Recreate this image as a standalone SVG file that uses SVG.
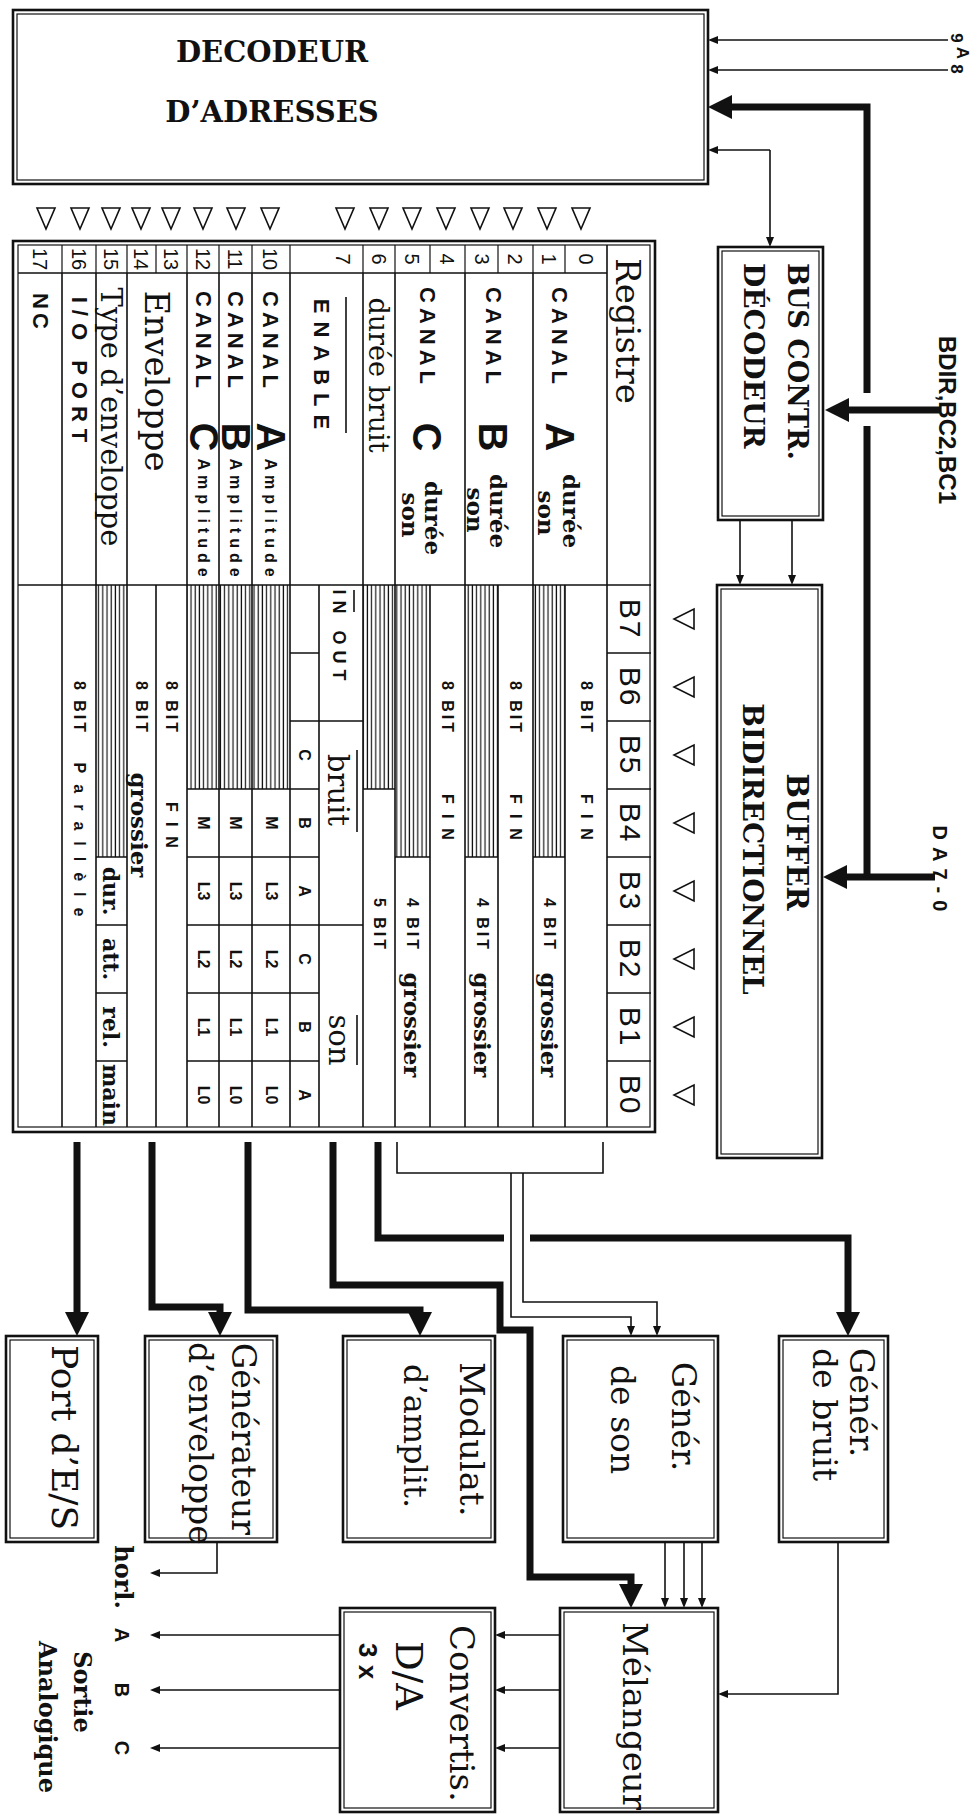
<svg xmlns="http://www.w3.org/2000/svg" width="970" height="1816" viewBox="0 0 970 1816">
<defs>
<style>
.ln{stroke:#111;fill:none;stroke-width:1.6}
.lt{stroke:#111;fill:none;stroke-width:1.2}
.th{stroke:#111;fill:none;stroke-width:7}
.bo{fill:#fff;stroke:#111;stroke-width:2.6}
.bi{fill:none;stroke:#111;stroke-width:1.2}
.tri{fill:#fff;stroke:#111;stroke-width:1.6}
.sf{font-family:'DejaVu Serif',serif;fill:#111}
.sb{font-family:'DejaVu Serif',serif;font-weight:bold;fill:#111}
.ss{font-family:'Liberation Sans',Arial,sans-serif;font-weight:bold;fill:#111}
.sn{font-family:'Liberation Sans',Arial,sans-serif;fill:#111}
.c{dominant-baseline:central;text-anchor:middle}
.s{dominant-baseline:central;text-anchor:start}
.h{fill:url(#hp);stroke:none}
.bit{font-size:16px;letter-spacing:3px}
.fin{font-size:16px;letter-spacing:10px}
.sm{font-size:16px}
</style>
<pattern id="hp" width="4.2" height="8" patternUnits="userSpaceOnUse"><rect width="4.2" height="8" fill="#fff"/><line x1="2" y1="0" x2="2" y2="8" stroke="#111" stroke-width="1.2"/></pattern>
<marker id="a" viewBox="0 0 10 8" refX="0" refY="4" markerWidth="10" markerHeight="8" orient="auto" markerUnits="userSpaceOnUse"><path d="M0,0 L10,4 L0,8 Z" fill="#111"/></marker>
<marker id="A" viewBox="0 0 24 24" refX="0" refY="12" markerWidth="24" markerHeight="24" orient="auto" markerUnits="userSpaceOnUse"><path d="M0,0 L24,12 L0,24 Z" fill="#111"/></marker>
<path id="td" d="M-9,0 L9,0 L0,21 Z" class="tri"/>
<path id="tl" d="M0,-10 L0,10 L-20,0 Z" class="tri"/>
</defs>
<rect width="970" height="1816" fill="#fff"/>

<g id="decodeur">
<rect class="bo" x="13" y="10" width="695" height="174"/>
<rect class="bi" x="17" y="14" width="687" height="166"/>
<text class="sb" x="272" y="62" font-size="29" text-anchor="middle">DECODEUR</text>
<text class="sb" x="272" y="122" font-size="29" text-anchor="middle">D’ADRESSES</text>
</g>

<g id="decoder-outputs">
<use href="#td" x="46" y="208"/><use href="#td" x="80" y="208"/><use href="#td" x="111" y="208"/><use href="#td" x="141" y="208"/>
<use href="#td" x="171" y="208"/><use href="#td" x="203" y="208"/><use href="#td" x="236" y="208"/><use href="#td" x="270" y="208"/>
<use href="#td" x="345" y="208"/><use href="#td" x="379" y="208"/><use href="#td" x="412" y="208"/><use href="#td" x="446" y="208"/>
<use href="#td" x="480" y="208"/><use href="#td" x="513" y="208"/><use href="#td" x="547" y="208"/><use href="#td" x="581" y="208"/>
</g>

<g id="table">
<rect class="bo" x="13" y="241" width="642" height="891"/>
<rect class="bi" x="18" y="245" width="632" height="882"/>
<rect class="h" x="533" y="585" width="32" height="272"/>
<rect class="h" x="465" y="585" width="33" height="272"/>
<rect class="h" x="395" y="585" width="35" height="272"/>
<rect class="h" x="363" y="585" width="32" height="204"/>
<rect class="h" x="187" y="585" width="103" height="204"/>
<rect class="h" x="96" y="585" width="31" height="272"/>
<path class="ln" d="M18,273 H607 M18,585 H651 M607,245 V1127"/>
<path class="lt" d="M62,245 V273 M96,245 V273 M127,245 V273 M156,245 V273 M187,245 V273 M219,245 V273 M252,245 V273 M290,245 V273 M363,245 V273 M395,245 V273 M430,245 V273 M465,245 V273 M498,245 V273 M533,245 V273 M565,245 V273"/>
<path class="ln" d="M62,273 V585 M96,273 V585 M127,273 V585 M187,273 V585 M219,273 V585 M252,273 V585 M290,273 V585 M363,273 V585 M395,273 V585 M465,273 V585 M533,273 V585"/>
<path class="ln" d="M62,585 V1127 M96,585 V1127 M127,585 V1127 M156,585 V1127 M187,585 V1127 M219,585 V1127 M252,585 V1127 M290,585 V1127 M319,585 V1127 M363,585 V1127 M395,585 V1127 M430,585 V1127 M465,585 V1127 M498,585 V1127 M533,585 V1127 M565,585 V1127"/>
<path class="ln" d="M607,653 H651 M607,721 H651 M607,789 H651 M607,857 H651 M607,925 H651 M607,993 H651 M607,1061 H651"/>
<path class="ln" d="M290,653 H319 M290,721 H363 M187,789 H319 M187,857 H319 M187,925 H363 M187,993 H319 M187,1061 H319 M363,789 H395 M395,857 H430 M465,857 H498 M533,857 H565 M96,857 H127 M96,925 H127 M96,993 H127 M96,1061 H127"/>
<text class="sf c" transform="translate(628 331) rotate(90)" font-size="34">Registre</text>
<text class="sn c" transform="translate(630 619) rotate(90)" font-size="30" letter-spacing="2">B7</text>
<text class="sn c" transform="translate(630 687) rotate(90)" font-size="30" letter-spacing="2">B6</text>
<text class="sn c" transform="translate(630 755) rotate(90)" font-size="30" letter-spacing="2">B5</text>
<text class="sn c" transform="translate(630 823) rotate(90)" font-size="30" letter-spacing="2">B4</text>
<text class="sn c" transform="translate(630 891) rotate(90)" font-size="30" letter-spacing="2">B3</text>
<text class="sn c" transform="translate(630 959) rotate(90)" font-size="30" letter-spacing="2">B2</text>
<text class="sn c" transform="translate(630 1027) rotate(90)" font-size="30" letter-spacing="2">B1</text>
<text class="sn c" transform="translate(630 1095) rotate(90)" font-size="30" letter-spacing="2">B0</text>
<text class="sn c" transform="translate(586 259) rotate(90)" font-size="20">0</text>
<text class="sn c" transform="translate(549 259) rotate(90)" font-size="20">1</text>
<text class="sn c" transform="translate(515 259) rotate(90)" font-size="20">2</text>
<text class="sn c" transform="translate(482 259) rotate(90)" font-size="20">3</text>
<text class="sn c" transform="translate(447 259) rotate(90)" font-size="20">4</text>
<text class="sn c" transform="translate(412 259) rotate(90)" font-size="20">5</text>
<text class="sn c" transform="translate(379 259) rotate(90)" font-size="20">6</text>
<text class="sn c" transform="translate(343 259) rotate(90)" font-size="20">7</text>
<text class="sn c" transform="translate(270 259) rotate(90)" font-size="20">10</text>
<text class="sn c" transform="translate(235 259) rotate(90)" font-size="20">11</text>
<text class="sn c" transform="translate(203 259) rotate(90)" font-size="20">12</text>
<text class="sn c" transform="translate(171 259) rotate(90)" font-size="20">13</text>
<text class="sn c" transform="translate(141 259) rotate(90)" font-size="20">14</text>
<text class="sn c" transform="translate(111 259) rotate(90)" font-size="20">15</text>
<text class="sn c" transform="translate(79 259) rotate(90)" font-size="20">16</text>
<text class="sn c" transform="translate(40 259) rotate(90)" font-size="20">17</text>
<text class="ss c" transform="translate(559 338) rotate(90)" font-size="22" letter-spacing="5">CANAL</text>
<text class="ss c" transform="translate(560 437) rotate(90)" font-size="40">A</text>
<text class="sb c" transform="translate(571 511) rotate(90)" font-size="23">durée</text>
<text class="sb c" transform="translate(546 513) rotate(90)" font-size="23">son</text>
<text class="ss c" transform="translate(493 338) rotate(90)" font-size="22" letter-spacing="5">CANAL</text>
<text class="ss c" transform="translate(493 437) rotate(90)" font-size="40">B</text>
<text class="sb c" transform="translate(498 511) rotate(90)" font-size="23">durée</text>
<text class="sb c" transform="translate(475 510) rotate(90)" font-size="23">son</text>
<text class="ss c" transform="translate(427 338) rotate(90)" font-size="22" letter-spacing="5">CANAL</text>
<text class="ss c" transform="translate(427 437) rotate(90)" font-size="40">C</text>
<text class="sb c" transform="translate(433 518) rotate(90)" font-size="23">durée</text>
<text class="sb c" transform="translate(410 515) rotate(90)" font-size="23">son</text>
<text class="sf c" transform="translate(378 375) rotate(90)" font-size="27">durée bruit</text>
<text class="ss c" transform="translate(321 368) rotate(90)" font-size="22" letter-spacing="8">ENABLE</text>
<path class="ln" d="M346,297 V433" stroke-width="2"/>
<text class="ss c" transform="translate(270 342) rotate(90)" font-size="22" letter-spacing="5">CANAL</text>
<text class="ss c" transform="translate(271 437) rotate(90)" font-size="40">A</text>
<text class="ss c" transform="translate(270 520) rotate(90)" font-size="16" letter-spacing="5">Amplitude</text>
<text class="ss c" transform="translate(235 342) rotate(90)" font-size="22" letter-spacing="5">CANAL</text>
<text class="ss c" transform="translate(236 437) rotate(90)" font-size="40">B</text>
<text class="ss c" transform="translate(235 520) rotate(90)" font-size="16" letter-spacing="5">Amplitude</text>
<text class="ss c" transform="translate(203 342) rotate(90)" font-size="22" letter-spacing="5">CANAL</text>
<text class="ss c" transform="translate(204 437) rotate(90)" font-size="40">C</text>
<text class="ss c" transform="translate(203 520) rotate(90)" font-size="16" letter-spacing="5">Amplitude</text>
<text class="sf c" transform="translate(157 381) rotate(90)" font-size="34">Enveloppe</text>
<text class="sf c" transform="translate(111 417) rotate(90)" font-size="29">Type d’enveloppe</text>
<text class="ss c" transform="translate(79 373) rotate(90)" font-size="22" letter-spacing="7">I/O PORT</text>
<text class="ss c" transform="translate(40 313) rotate(90)" font-size="22" letter-spacing="4">NC</text>
<text class="ss c bit" transform="translate(586 708) rotate(90)">8 BIT</text>
<text class="ss c fin" transform="translate(586 822) rotate(90)">FIN</text>
<text class="ss c bit" transform="translate(549 925) rotate(90)">4 BIT</text>
<text class="sb c" transform="translate(549 1025) rotate(90)" font-size="23">grossier</text>
<text class="ss c bit" transform="translate(515 708) rotate(90)">8 BIT</text>
<text class="ss c fin" transform="translate(515 822) rotate(90)">FIN</text>
<text class="ss c bit" transform="translate(482 925) rotate(90)">4 BIT</text>
<text class="sb c" transform="translate(482 1025) rotate(90)" font-size="23">grossier</text>
<text class="ss c bit" transform="translate(447 708) rotate(90)">8 BIT</text>
<text class="ss c fin" transform="translate(447 822) rotate(90)">FIN</text>
<text class="ss c bit" transform="translate(412 925) rotate(90)">4 BIT</text>
<text class="sb c" transform="translate(412 1025) rotate(90)" font-size="23">grossier</text>
<text class="ss c bit" transform="translate(379 925) rotate(90)">5 BIT</text>
<text class="ss c" transform="translate(339 638) rotate(90)" font-size="18" letter-spacing="6">IN OUT</text>
<path class="ln" d="M354,590 V612"/>
<text class="sf c" transform="translate(338 790) rotate(90)" font-size="29">bruit</text>
<path class="ln" d="M357,750 V832"/>
<text class="sf c" transform="translate(339 1040) rotate(90)" font-size="29">son</text>
<path class="ln" d="M357,1015 V1065"/>
<text class="ss c sm" transform="translate(304 755) rotate(90)">C</text>
<text class="ss c sm" transform="translate(304 823) rotate(90)">B</text>
<text class="ss c sm" transform="translate(304 891) rotate(90)">A</text>
<text class="ss c sm" transform="translate(304 959) rotate(90)">C</text>
<text class="ss c sm" transform="translate(304 1027) rotate(90)">B</text>
<text class="ss c sm" transform="translate(304 1095) rotate(90)">A</text>
<text class="ss c sm" transform="translate(271 823) rotate(90)">M</text>
<text class="ss c sm" transform="translate(271 891) rotate(90)">L3</text>
<text class="ss c sm" transform="translate(271 959) rotate(90)">L2</text>
<text class="ss c sm" transform="translate(271 1027) rotate(90)">L1</text>
<text class="ss c sm" transform="translate(271 1095) rotate(90)">L0</text>
<text class="ss c sm" transform="translate(235 823) rotate(90)">M</text>
<text class="ss c sm" transform="translate(235 891) rotate(90)">L3</text>
<text class="ss c sm" transform="translate(235 959) rotate(90)">L2</text>
<text class="ss c sm" transform="translate(235 1027) rotate(90)">L1</text>
<text class="ss c sm" transform="translate(235 1095) rotate(90)">L0</text>
<text class="ss c sm" transform="translate(203 823) rotate(90)">M</text>
<text class="ss c sm" transform="translate(203 891) rotate(90)">L3</text>
<text class="ss c sm" transform="translate(203 959) rotate(90)">L2</text>
<text class="ss c sm" transform="translate(203 1027) rotate(90)">L1</text>
<text class="ss c sm" transform="translate(203 1095) rotate(90)">L0</text>
<text class="ss c bit" transform="translate(171 708) rotate(90)">8 BIT</text>
<text class="ss c fin" transform="translate(171 830) rotate(90)">FIN</text>
<text class="ss c bit" transform="translate(141 708) rotate(90)">8 BIT</text>
<text class="sb c" transform="translate(139 825) rotate(90)" font-size="23">grossier</text>
<text class="sb c" transform="translate(111 891) rotate(90)" font-size="22">dur.</text>
<text class="sb c" transform="translate(111 959) rotate(90)" font-size="22">att.</text>
<text class="sb c" transform="translate(111 1027) rotate(90)" font-size="22">rel.</text>
<text class="sb c" transform="translate(111 1095) rotate(90)" font-size="22">main</text>
<text class="ss c bit" transform="translate(79 708) rotate(90)">8 BIT</text>
<text class="ss c" transform="translate(79 845) rotate(90)" font-size="16" letter-spacing="11">Parallèle</text>
</g>

<g id="bit-inputs">
<use href="#tl" x="694" y="619"/><use href="#tl" x="694" y="687"/><use href="#tl" x="694" y="755"/><use href="#tl" x="694" y="823"/>
<use href="#tl" x="694" y="891"/><use href="#tl" x="694" y="959"/><use href="#tl" x="694" y="1027"/><use href="#tl" x="694" y="1095"/>
</g>

<g id="bus-controle">
<rect class="bo" x="718" y="247" width="105" height="273"/>
<rect class="bi" x="722" y="251" width="97" height="265"/>
<text class="sb s" transform="translate(797 263) rotate(90)" font-size="27">BUS CONTR.</text>
<text class="sb s" transform="translate(753 263) rotate(90)" font-size="28">DÉCODEUR</text>
</g>

<g id="buffer">
<rect class="bo" x="717" y="585" width="105" height="573"/>
<rect class="bi" x="721" y="589" width="97" height="565"/>
<text class="sb c" transform="translate(797 842) rotate(90)" font-size="29">BUFFER</text>
<text class="sb c" transform="translate(752 849) rotate(90)" font-size="28">BIDIRECTIONNEL</text>
</g>

<g id="labels-entrees">
<text class="ss c" transform="translate(956 38) rotate(90)" font-size="17">9</text>
<text class="ss c" transform="translate(962 53) rotate(90)" font-size="17">A</text>
<text class="ss c" transform="translate(956 69) rotate(90)" font-size="17">8</text>
<text class="ss c" transform="translate(947 420) rotate(90)" font-size="24">BDIR,BC2,BC1</text>
<text class="ss c" transform="translate(940 872) rotate(90)" font-size="20" letter-spacing="7">DA7-0</text>
</g>

<g id="port-es">
<rect class="bo" x="6" y="1336" width="92" height="206"/>
<rect class="bi" x="10" y="1340" width="84" height="198"/>
<text class="sf s" transform="translate(64 1345) rotate(90)" font-size="36">Port d’E/S</text>
</g>
<g id="gen-enveloppe">
<rect class="bo" x="145" y="1336" width="132" height="206"/>
<rect class="bi" x="149" y="1340" width="124" height="198"/>
<text class="sf s" transform="translate(243 1343) rotate(90)" font-size="33">Générateur</text>
<text class="sf s" transform="translate(200 1342) rotate(90)" font-size="33">d’enveloppe</text>
</g>
<g id="modulateur">
<rect class="bo" x="343" y="1336" width="152" height="206"/>
<rect class="bi" x="347" y="1340" width="144" height="198"/>
<text class="sf s" transform="translate(472 1362) rotate(90)" font-size="34">Modulat.</text>
<text class="sf s" transform="translate(415 1364) rotate(90)" font-size="32">d’amplit.</text>
</g>
<g id="gen-son">
<rect class="bo" x="563" y="1336" width="155" height="206"/>
<rect class="bi" x="567" y="1340" width="147" height="198"/>
<text class="sf s" transform="translate(683 1362) rotate(90)" font-size="33">Génér.</text>
<text class="sf s" transform="translate(622 1365) rotate(90)" font-size="33">de son</text>
</g>
<g id="gen-bruit">
<rect class="bo" x="779" y="1336" width="109" height="206"/>
<rect class="bi" x="783" y="1340" width="101" height="198"/>
<text class="sf s" transform="translate(861 1348) rotate(90)" font-size="33">Génér.</text>
<text class="sf s" transform="translate(824 1348) rotate(90)" font-size="33">de bruit</text>
</g>
<g id="melangeur">
<rect class="bo" x="560" y="1608" width="158" height="204"/>
<rect class="bi" x="564" y="1612" width="150" height="196"/>
<text class="sf s" transform="translate(635 1622) rotate(90)" font-size="34">Mélangeur</text>
</g>
<g id="convertisseur">
<rect class="bo" x="340" y="1608" width="155" height="204"/>
<rect class="bi" x="344" y="1612" width="147" height="196"/>
<text class="sf s" transform="translate(462 1625) rotate(90)" font-size="34">Convertis.</text>
<text class="sf s" transform="translate(408 1641) rotate(90)" font-size="37">D/A</text>
<text class="ss s" transform="translate(368 1643) rotate(90)" font-size="26">3 x</text>
</g>
<g id="sorties">
<text class="sb c" transform="translate(123 1577) rotate(90)" font-size="24">horl.</text>
<text class="ss c" transform="translate(122 1635) rotate(90)" font-size="20">A</text>
<text class="ss c" transform="translate(122 1690) rotate(90)" font-size="20">B</text>
<text class="ss c" transform="translate(122 1748) rotate(90)" font-size="20">C</text>
<text class="sb c" transform="translate(82 1692) rotate(90)" font-size="24">Sortie</text>
<text class="sb c" transform="translate(47 1717) rotate(90)" font-size="24">Analogique</text>
</g>

<g id="connecteurs">
<path class="ln" d="M948,40 H718" marker-end="url(#a)"/>
<path class="ln" d="M948,70 H718" marker-end="url(#a)"/>
<path class="th" d="M867,393 V107 H732" marker-end="url(#A)"/>
<path class="th" d="M867,426 V880"/>
<path class="ln" d="M770,150 H718" marker-end="url(#a)"/>
<path class="ln" d="M770,150 V237" marker-end="url(#a)"/>
<path class="th" d="M940,410 H849" marker-end="url(#A)"/>
<path class="th" d="M935,877 H847" marker-end="url(#A)"/>
<path class="ln" d="M740,520 V575" marker-end="url(#a)"/>
<path class="ln" d="M792,520 V575" marker-end="url(#a)"/>
<path class="th" d="M77,1142 V1312" marker-end="url(#A)"/>
<path class="th" d="M152,1142 V1307 H220 V1312" marker-end="url(#A)"/>
<path class="th" d="M248,1142 V1310 H420 V1312" marker-end="url(#A)"/>
<path class="th" d="M333,1142 V1285 H500 V1330 H530 V1577 H631 V1584" marker-end="url(#A)"/>
<path class="th" d="M378,1142 V1238 H504"/>
<path class="th" d="M530,1238 H848 V1312" marker-end="url(#A)"/>
<path class="ln" d="M397,1142 V1173 H603 V1142"/>
<path class="ln" d="M511,1173 V1317 H631 V1326" marker-end="url(#a)"/>
<path class="ln" d="M523,1173 V1302 H657 V1326" marker-end="url(#a)"/>
<path class="ln" d="M665,1542 V1598" marker-end="url(#a)"/>
<path class="ln" d="M684,1542 V1598" marker-end="url(#a)"/>
<path class="ln" d="M702,1542 V1598" marker-end="url(#a)"/>
<path class="ln" d="M838,1542 V1694 H728" marker-end="url(#a)"/>
<path class="ln" d="M560,1635 H505" marker-end="url(#a)"/>
<path class="ln" d="M560,1690 H505" marker-end="url(#a)"/>
<path class="ln" d="M560,1748 H505" marker-end="url(#a)"/>
<path class="ln" d="M340,1635 H160" marker-end="url(#a)"/>
<path class="ln" d="M340,1690 H160" marker-end="url(#a)"/>
<path class="ln" d="M340,1748 H160" marker-end="url(#a)"/>
<path class="ln" d="M217,1542 V1573 H160" marker-end="url(#a)"/>
</g>
</svg>
